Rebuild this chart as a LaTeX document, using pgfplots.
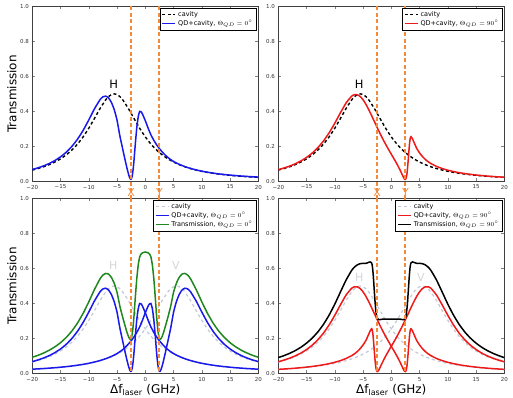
\documentclass[border=0pt]{standalone}
\usepackage{fontspec}
\setmainfont{DejaVu Sans}
\usepackage{pgfplots}
\pgfplotsset{compat=1.18}
\usepackage{pgfplotstable}

\definecolor{qorange}{HTML}{F28C3C}
\definecolor{qblue}{RGB}{25,25,235}
\definecolor{qgreen}{RGB}{30,135,30}
\definecolor{qred}{RGB}{238,25,25}
\definecolor{cavgray}{RGB}{195,200,212}
\definecolor{lblgray}{RGB}{212,212,218}

\pgfplotstableread{
x y
-20 0.0649
-19 0.0734
-18 0.0836
-17 0.0958
-16 0.1107
-15 0.1289
-14 0.1513
-13 0.1790
-12 0.2130
-11 0.2545
-10 0.3038
-9 0.3596
-8 0.4169
-7 0.4665
-6.5 0.4845
-6 0.4960
-5.5 0.5000
-5 0.4960
-4.5 0.4845
-4 0.4665
-3 0.4169
-2 0.3596
-1 0.3038
0 0.2545
1 0.2130
2 0.1790
3 0.1513
4 0.1289
5 0.1107
6 0.0958
7 0.0836
8 0.0734
9 0.0649
10 0.0577
11 0.0517
12 0.0464
13 0.0420
14 0.0381
15 0.0347
16 0.0318
17 0.0292
18 0.0269
19 0.0248
20 0.0230
}\cavH

\pgfplotstableread{
x y
-20 0.0230
-19 0.0248
-18 0.0269
-17 0.0292
-16 0.0318
-15 0.0347
-14 0.0381
-13 0.0420
-12 0.0464
-11 0.0517
-10 0.0577
-9 0.0649
-8 0.0734
-7 0.0836
-6 0.0958
-5 0.1107
-4 0.1289
-3 0.1513
-2 0.1790
-1 0.2130
0 0.2545
1 0.3038
2 0.3596
3 0.4169
4 0.4665
4.5 0.4845
5 0.4960
5.5 0.5000
6 0.4960
6.5 0.4845
7 0.4665
8 0.4169
9 0.3596
10 0.3038
11 0.2545
12 0.2130
13 0.1790
14 0.1513
15 0.1289
16 0.1107
17 0.0958
18 0.0836
19 0.0734
20 0.0649
}\cavV

\pgfplotstableread{
x y
-20 0.0680
-19 0.0773
-18 0.0886
-17 0.1023
-16 0.1193
-15 0.1403
-14 0.1666
-13 0.1997
-12 0.2410
-11 0.2918
-10 0.3513
-9 0.4146
-8 0.4675
-7.5 0.4832
-7 0.4871
-6.5 0.4771
-6 0.4513
-5.5 0.4101
-5 0.3500
-4.5 0.2600
-4 0.1850
-3.75 0.1480
-3.5 0.1120
-3.25 0.0770
-3 0.0450
-2.9 0.0340
-2.8 0.0245
-2.7 0.0170
-2.6 0.0125
-2.5 0.0130
-2.4 0.0200
-2.3 0.0340
-2.2 0.0560
-2.1 0.0850
-2 0.1200
-1.75 0.2200
-1.5 0.3100
-1.25 0.3700
-1 0.4000
-0.75 0.3980
-0.5 0.3850
0 0.3471
0.5 0.3045
0.75 0.2845
1 0.2657
1.5 0.2351
2 0.2091
2.5 0.1870
3 0.1682
3.5 0.1512
4 0.1365
4.5 0.1245
5 0.1139
5.5 0.1053
6 0.0976
6.5 0.0908
7 0.0846
7.5 0.0791
8 0.0741
9 0.0655
10 0.0583
11 0.0524
12 0.0473
13 0.0429
14 0.0392
15 0.0360
16 0.0331
17 0.0306
18 0.0284
19 0.0264
20 0.0247
}\qdA

\pgfplotstableread{
x y
-20 0.0247
-19 0.0264
-18 0.0284
-17 0.0306
-16 0.0331
-15 0.0360
-14 0.0392
-13 0.0429
-12 0.0473
-11 0.0524
-10 0.0583
-9 0.0655
-8 0.0741
-7.5 0.0791
-7 0.0846
-6.5 0.0908
-6 0.0976
-5.5 0.1053
-5 0.1139
-4.5 0.1245
-4 0.1365
-3.5 0.1512
-3 0.1682
-2.5 0.1870
-2 0.2091
-1.5 0.2351
-1 0.2657
-0.75 0.2845
-0.5 0.3045
0 0.3471
0.5 0.3850
0.75 0.3980
1 0.4000
1.25 0.3700
1.5 0.3100
1.75 0.2200
2 0.1200
2.1 0.0850
2.2 0.0560
2.3 0.0340
2.4 0.0200
2.5 0.0130
2.6 0.0125
2.7 0.0170
2.8 0.0245
2.9 0.0340
3 0.0450
3.25 0.0770
3.5 0.1120
3.75 0.1480
4 0.1850
4.5 0.2600
5 0.3500
5.5 0.4101
6 0.4513
6.5 0.4771
7 0.4871
7.5 0.4832
8 0.4675
9 0.4146
10 0.3513
11 0.2918
12 0.2410
13 0.1997
14 0.1666
15 0.1403
16 0.1193
17 0.1023
18 0.0886
19 0.0773
20 0.0680
}\qdAm

\pgfplotstableread{
x y
-20 0.0927
-19 0.1037
-18 0.1170
-17 0.1329
-16 0.1524
-15 0.1763
-14 0.2058
-13 0.2426
-12 0.2883
-11 0.3442
-10 0.4096
-9 0.4801
-8 0.5416
-7.5 0.5623
-7 0.5717
-6.5 0.5679
-6 0.5489
-5.5 0.5154
-5 0.4639
-4.5 0.3845
-4 0.3215
-3.75 0.2920
-3.5 0.2632
-3.25 0.2359
-3 0.2132
-2.9 0.2058
-2.8 0.1999
-2.7 0.1962
-2.6 0.1955
-2.5 0.2000
-2.4 0.2112
-2.3 0.2295
-2.2 0.2558
-2.1 0.2894
-2 0.3291
-1.75 0.4416
-1.5 0.5451
-1.25 0.6199
-1 0.6657
-0.75 0.6825
-0.5 0.6895
0 0.6942
0.5 0.6895
0.75 0.6825
1 0.6657
1.25 0.6199
1.5 0.5451
1.75 0.4416
2 0.3291
2.1 0.2894
2.2 0.2558
2.3 0.2295
2.4 0.2112
2.5 0.2000
2.6 0.1955
2.7 0.1962
2.8 0.1999
2.9 0.2058
3 0.2132
3.25 0.2359
3.5 0.2632
3.75 0.2920
4 0.3215
4.5 0.3845
5 0.4639
5.5 0.5154
6 0.5489
6.5 0.5679
7 0.5717
7.5 0.5623
8 0.5416
9 0.4801
10 0.4096
11 0.3442
12 0.2883
13 0.2426
14 0.2058
15 0.1763
16 0.1524
17 0.1329
18 0.1170
19 0.1037
20 0.0927
}\trG

\pgfplotstableread{
x y
-20 0.0673
-19 0.0764
-18 0.0874
-17 0.1006
-16 0.1169
-15 0.1370
-14 0.1619
-13 0.1928
-12 0.2311
-11 0.2778
-10 0.3326
-9 0.3923
-8 0.4485
-7 0.4875
-6.5 0.4957
-6 0.4950
-5.5 0.4850
-5 0.4665
-4.5 0.4411
-4 0.4106
-3.5 0.3771
-3 0.3424
-2.5 0.3079
-2 0.2744
-1.5 0.2424
-1 0.2120
-0.5 0.1832
0 0.1553
0.5 0.1278
1 0.0993
1.5 0.0682
1.75 0.0513
2 0.0337
2.2 0.0205
2.3 0.0152
2.4 0.0117
2.5 0.0114
2.6 0.0161
2.7 0.0284
2.8 0.0511
2.9 0.0858
3.0 0.1244
3.1 0.1675
3.2 0.2064
3.3 0.2362
3.4 0.2528
3.5 0.2558
3.6 0.2511
3.75 0.2433
4 0.2245
4.5 0.1882
5 0.1630
5.5 0.1426
6 0.1260
6.5 0.1129
7 0.1023
8 0.0859
9 0.0736
10 0.0640
11 0.0563
12 0.0500
13 0.0447
14 0.0403
15 0.0365
16 0.0332
17 0.0303
18 0.0278
19 0.0256
20 0.0237
}\qdB

\pgfplotstableread{
x y
-20 0.0237
-19 0.0256
-18 0.0278
-17 0.0303
-16 0.0332
-15 0.0365
-14 0.0403
-13 0.0447
-12 0.0500
-11 0.0563
-10 0.0640
-9 0.0736
-8 0.0859
-7 0.1023
-6.5 0.1129
-6 0.1260
-5.5 0.1426
-5 0.1630
-4.5 0.1882
-4 0.2245
-3.75 0.2433
-3.6 0.2511
-3.5 0.2558
-3.4 0.2528
-3.3 0.2362
-3.2 0.2064
-3.1 0.1675
-3.0 0.1244
-2.9 0.0858
-2.8 0.0511
-2.7 0.0284
-2.6 0.0161
-2.5 0.0114
-2.4 0.0117
-2.3 0.0152
-2.2 0.0205
-2 0.0337
-1.75 0.0513
-1.5 0.0682
-1 0.0993
-0.5 0.1278
0 0.1553
0.5 0.1832
1 0.2120
1.5 0.2424
2 0.2744
2.5 0.3079
3 0.3424
3.5 0.3771
4 0.4106
4.5 0.4411
5 0.4665
5.5 0.4850
6 0.4950
6.5 0.4957
7 0.4875
8 0.4485
9 0.3923
10 0.3326
11 0.2778
12 0.2311
13 0.1928
14 0.1619
15 0.1370
16 0.1169
17 0.1006
18 0.0874
19 0.0764
20 0.0673
}\qdBm

\pgfplotstableread{
x y
-20 0.0910
-19 0.1020
-18 0.1152
-17 0.1309
-16 0.1501
-15 0.1735
-14 0.2022
-13 0.2375
-12 0.2811
-11 0.3341
-10 0.3966
-9 0.4659
-8 0.5344
-7 0.5898
-6.5 0.6086
-6 0.6210
-5.5 0.6276
-5 0.6295
-4.5 0.6293
-4 0.6351
-3.75 0.6374
-3.6 0.6349
-3.5 0.6329
-3.4 0.6230
-3.3 0.5995
-3.2 0.5628
-3.1 0.5169
-3.0 0.4668
-2.9 0.4213
-2.8 0.3797
-2.7 0.3500
-2.6 0.3308
-2.5 0.3193
-2.4 0.3128
-2.3 0.3096
-2.2 0.3082
-2 0.3081
-1.75 0.3094
-1.5 0.3106
-1 0.3113
-0.5 0.3110
0 0.3106
0.5 0.3110
1 0.3113
1.5 0.3106
1.75 0.3094
2 0.3081
2.2 0.3082
2.3 0.3096
2.4 0.3128
2.5 0.3193
2.6 0.3308
2.7 0.3500
2.8 0.3797
2.9 0.4213
3.0 0.4668
3.1 0.5169
3.2 0.5628
3.3 0.5995
3.4 0.6230
3.5 0.6329
3.6 0.6349
3.75 0.6374
4 0.6351
4.5 0.6293
5 0.6295
5.5 0.6276
6 0.6210
6.5 0.6086
7 0.5898
8 0.5344
9 0.4659
10 0.3966
11 0.3341
12 0.2811
13 0.2375
14 0.2022
15 0.1735
16 0.1501
17 0.1309
18 0.1152
19 0.1020
20 0.0910
}\trK

\pgfplotstableread{
x y
-2.5 1
-2.5 -0.098
}\vlXTop

\pgfplotstableread{
x y
2.5 1
2.5 -0.098
}\vlYTop

\pgfplotstableread{
x y
-2.5 1
-2.5 0
}\vlXBot

\pgfplotstableread{
x y
2.5 1
2.5 0
}\vlYBot

\tikzset{
  qline/.style={line width=1.5pt, smooth, tension=0.3},
}

\pgfplotsset{
  panel/.style={
    scale only axis, width=226pt, height=175pt,
    anchor=south west,
    xmin=-20, xmax=20, ymin=0, ymax=1,
    xtick={-20,-15,-10,-5,0,5,10,15,20},
    xticklabels={−20,−15,−10,−5,0,5,10,15,20},
    ytick={0,0.2,0.4,0.6,0.8,1},
    yticklabels={0.0,0.2,0.4,0.6,0.8,1.0},
    tick label style={font=\fontsize{5.5}{6}\selectfont, color=black!80},
    tick align=inside, major tick length=3pt, minor tick num=0,
    axis line style={black!75, line width=0.6pt},
    clip=false,
    legend style={at={(0.993,0.99)}, anchor=north east,
      font=\fontsize{6.5}{8}\selectfont,
      inner xsep=2pt, inner ysep=1pt, row sep=-1.5pt, fill=white},
    legend cell align=left,
    legend image code/.code={\draw[##1] (0pt,0pt) -- (13pt,0pt);},
    every axis y label/.style={at={(axis description cs:-0.09,0.5)}, rotate=90, anchor=center, font=\fontsize{12}{14}\selectfont},
    every axis x label/.style={at={(axis description cs:0.5,-0.094)}, anchor=center, font=\fontsize{12}{14}\selectfont},
  },
  vl/.style={draw=qorange, line width=1.9pt, dash pattern=on 4pt off 2.5pt, forget plot},
}

\begin{document}
\begin{tikzpicture}
\useasboundingbox (0,0) rectangle (513pt,398pt);

% top left
\begin{axis}[panel, at={(32.3pt,216.6pt)}, ylabel={Transmission}]
\addplot[black, line width=1.4pt, dash pattern=on 3pt off 2.5pt, smooth, tension=0.3] table {\cavH};
\addplot[qblue, qline] table {\qdA};
\addplot[vl] table {\vlXTop};
\addplot[vl] table {\vlYTop};
\legend{cavity,{QD+cavity, $\Theta_{QD}=0^{\circ}$}}
\node[text=qorange, font=\fontsize{11}{12}\selectfont] at (axis cs:-2.5,-0.064) {X};
\node[text=qorange, font=\fontsize{11}{12}\selectfont] at (axis cs:2.5,-0.064) {Y};
\node[font=\fontsize{11.5}{12}\selectfont] at (axis cs:-5.6,0.555) {H};
\end{axis}

% top right
\begin{axis}[panel, at={(278.3pt,216.6pt)}]
\addplot[black, line width=1.4pt, dash pattern=on 3pt off 2.5pt, smooth, tension=0.3] table {\cavH};
\addplot[qred, qline] table {\qdB};
\addplot[vl] table {\vlXTop};
\addplot[vl] table {\vlYTop};
\legend{cavity,{QD+cavity, $\Theta_{QD}=90^{\circ}$}}
\node[text=qorange, font=\fontsize{11}{12}\selectfont] at (axis cs:-2.5,-0.064) {X};
\node[text=qorange, font=\fontsize{11}{12}\selectfont] at (axis cs:2.5,-0.064) {Y};
\node[font=\fontsize{11.5}{12}\selectfont] at (axis cs:-5.7,0.555) {H};
\end{axis}

% bottom left
\begin{axis}[panel, at={(32.3pt,24.5pt)}, ylabel={Transmission}, xlabel={Δf\textsubscript{laser} (GHz)}]
\addplot[cavgray, line width=1.2pt, dash pattern=on 3pt off 3pt, smooth, tension=0.3] table {\cavH};
\addplot[cavgray, line width=1.2pt, dash pattern=on 3pt off 3pt, smooth, tension=0.3, forget plot] table {\cavV};
\addplot[qblue, qline] table {\qdA};
\addplot[qblue, qline, forget plot] table {\qdAm};
\addplot[qgreen, qline] table {\trG};
\addplot[vl] table {\vlXBot};
\addplot[vl] table {\vlYBot};
\legend{cavity,{QD+cavity, $\Theta_{QD}=0^{\circ}$},{Transmission, $\Theta_{QD}=0^{\circ}$}}
\node[text=lblgray, font=\fontsize{11}{12}\selectfont] at (axis cs:-5.65,0.618) {H};
\node[text=lblgray, font=\fontsize{11}{12}\selectfont] at (axis cs:5.4,0.618) {V};
\end{axis}

% bottom right
\begin{axis}[panel, at={(278.3pt,24.5pt)}, xlabel={Δf\textsubscript{laser} (GHz)}]
\addplot[cavgray, line width=1.2pt, dash pattern=on 3pt off 3pt, smooth, tension=0.3] table {\cavH};
\addplot[cavgray, line width=1.2pt, dash pattern=on 3pt off 3pt, smooth, tension=0.3, forget plot] table {\cavV};
\addplot[qred, qline] table {\qdB};
\addplot[qred, qline, forget plot] table {\qdBm};
\addplot[black, qline] table {\trK};
\addplot[vl] table {\vlXBot};
\addplot[vl] table {\vlYBot};
\legend{cavity,{QD+cavity, $\Theta_{QD}=90^{\circ}$},{Transmission, $\Theta_{QD}=90^{\circ}$}}
\node[text=lblgray, font=\fontsize{11}{12}\selectfont] at (axis cs:-5.65,0.548) {H};
\node[text=lblgray, font=\fontsize{11}{12}\selectfont] at (axis cs:5.25,0.548) {V};
\end{axis}
\end{tikzpicture}
\end{document}
